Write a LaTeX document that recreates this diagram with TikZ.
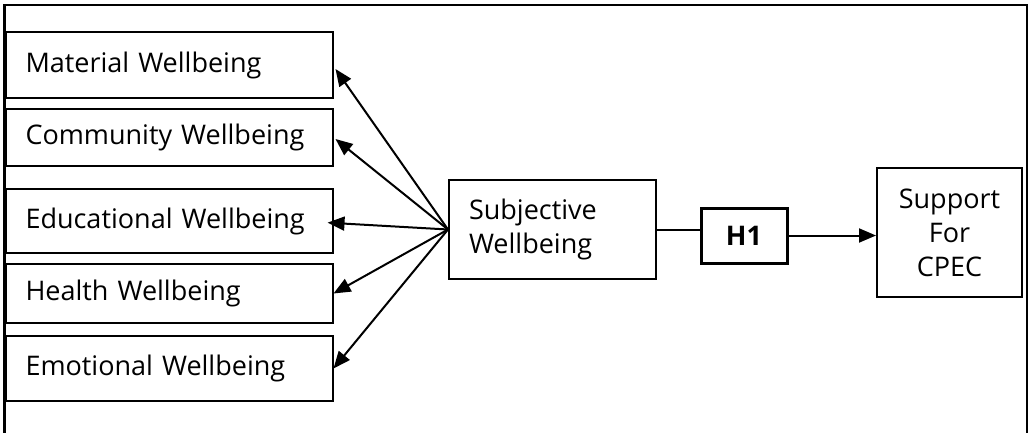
\documentclass[tikz,border=0pt]{standalone}
\usepackage{fontspec}
\setmainfont{Open Sans}
\usetikzlibrary{arrows.meta}
\begin{document}
\begin{tikzpicture}[x=1pt,y=-1pt,
  box/.style={draw=black, line width=2pt, inner sep=0pt, font=\fontsize{27}{34}\selectfont},
  lbox/.style={box, anchor=north west, text width=287pt, inner xsep=20pt, minimum height=#1, align=left},
  arr/.style={-{Triangle[length=17pt,width=14pt]}, line width=2pt},
  link/.style={line width=2pt}]
\useasboundingbox (0,0) rectangle (1029,432);
% outer frame (open at bottom)
\draw[line width=2.6pt] (4.5,440) -- (4.5,5) -- (1027,5) -- (1027,440);
% left boxes
\node[lbox=66pt] (mat) at (4.5,31) {Material Wellbeing};
\node[lbox=57pt] (com) at (4.5,108) {Community Wellbeing};
\node[lbox=64pt] (edu) at (4.5,188) {Educational Wellbeing};
\node[lbox=59pt] (hea) at (4.5,263) {Health Wellbeing};
\node[lbox=65pt] (emo) at (4.5,335) {Emotional Wellbeing};
% subjective
\node[box, minimum width=207pt, minimum height=99pt, text width=167pt, inner xsep=20pt, align=left] (sub) at (552.5,229.5) {Subjective\\Wellbeing};
% H1
\node[box, line width=3pt, minimum width=86pt, minimum height=55pt, font=\fontsize{27}{30}\selectfont\bfseries] (h1) at (744,235.5) {H1};
% support
\node[box, minimum width=145pt, minimum height=129pt, align=center] (sup) at (949.5,232.5) {Support\\For\\CPEC};
% arrows
\draw[arr] (sub.west) -- ([yshift=-4pt,xshift=2pt]mat.east);
\draw[arr] (sub.west) -- ([yshift=-1.5pt,xshift=2pt]com.east);
\draw[arr, shorten >=-6pt] (sub.west) -- ([yshift=-2pt]edu.east);
\draw[arr] (sub.west) -- (hea.east);
\draw[arr] (sub.west) -- (emo.east);
\draw[link] (sub.east) -- (h1.west |- sub.east);
\draw[arr] (h1.east) -- (sup.west |- h1.east);
\end{tikzpicture}
\end{document}
